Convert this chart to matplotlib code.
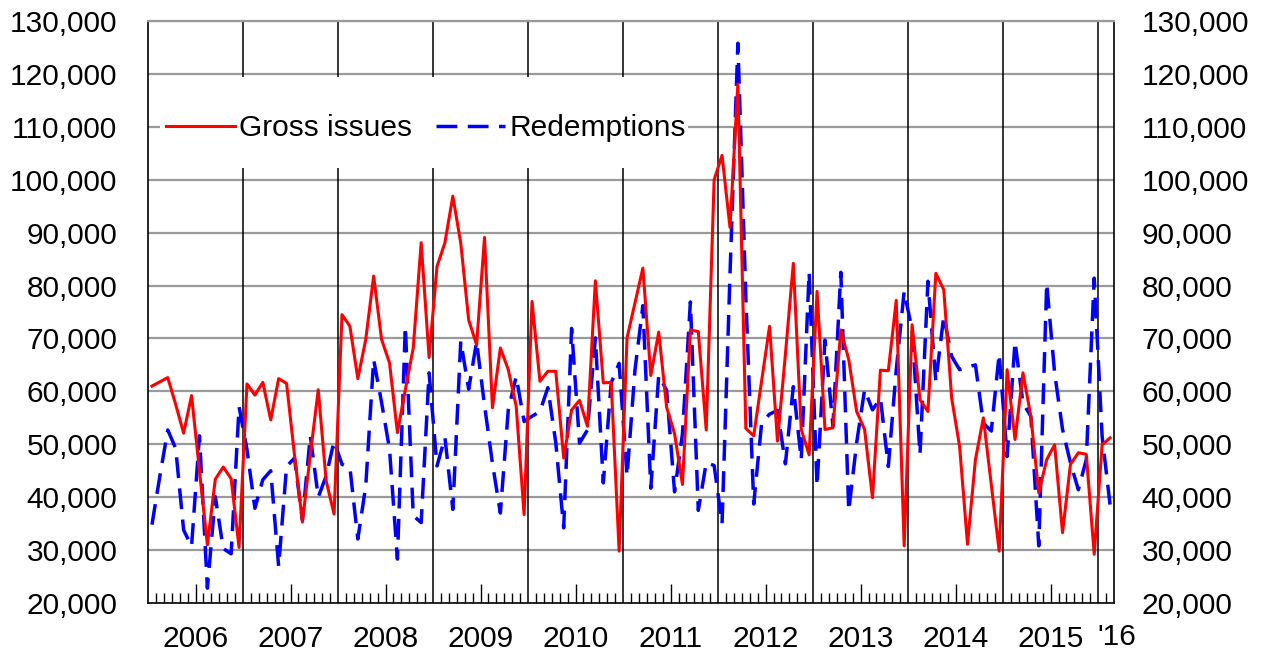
import numpy as np
import matplotlib
matplotlib.use('Agg')
from matplotlib import pyplot as plt
from matplotlib.patches import Rectangle
from matplotlib.ticker import FuncFormatter

plt.rcParams['font.family'] = ['Liberation Sans', 'DejaVu Sans']

# monthly values, Jan 2006 - Feb 2016, thousands
gross_issues = [61.0, 61.8, 62.6, 57.5, 52.1, 59.2, 45.0, 31.0, 43.4, 45.7, 43.5, 30.5,
                61.4, 59.3, 61.7, 54.6, 62.4, 61.5, 48.0, 35.3, 48.0, 60.3, 43.1, 36.8,
                74.5, 72.3, 62.4, 69.8, 81.8, 69.8, 65.4, 52.2, 60.3, 68.2, 88.1, 66.4,
                83.6, 88.1, 96.9, 88.0, 73.5, 68.8, 89.1, 56.9, 68.2, 64.1, 57.2, 36.7,
                77.0, 61.9, 63.8, 63.8, 47.4, 56.5, 58.3, 53.4, 80.9, 61.6, 61.7, 29.8,
                70.1, 76.7, 83.3, 63.0, 71.2, 57.0, 52.0, 42.4, 71.6, 71.3, 52.7, 100.0,
                104.6, 91.0, 118.1, 53.0, 51.6, 62.0, 72.3, 50.6, 67.0, 84.2, 52.8, 48.0,
                78.9, 52.8, 53.1, 71.6, 66.0, 56.2, 52.8, 39.9, 64.0, 63.9, 77.2, 30.8,
                72.6, 58.4, 56.2, 82.3, 79.2, 58.7, 49.6, 31.1, 47.1, 55.0, 42.4, 29.8,
                64.1, 50.9, 63.5, 55.3, 40.8, 47.1, 49.9, 33.3, 46.2, 48.4, 48.1, 29.2,
                49.9, 51.2]
redemptions = [34.8, 44.0, 52.7, 49.2, 33.8, 30.7, 51.6, 22.8, 40.1, 30.3, 29.3, 57.1,
               49.0, 37.9, 43.3, 45.0, 26.9, 45.8, 47.4, 35.7, 51.6, 40.0, 44.0, 50.6,
               46.2, 45.6, 32.1, 42.1, 66.0, 57.9, 49.1, 28.3, 72.3, 36.5, 35.2, 63.5,
               45.9, 51.3, 37.7, 69.5, 60.4, 69.4, 57.4, 46.4, 37.0, 56.5, 62.8, 54.3,
               55.3, 56.2, 60.7, 50.3, 34.2, 71.9, 50.2, 52.7, 70.1, 42.7, 61.6, 65.3,
               44.0, 64.0, 76.2, 41.7, 63.0, 60.2, 41.0, 52.0, 76.9, 37.5, 46.5, 46.0,
               35.0, 82.0, 125.8, 78.0, 38.7, 54.0, 55.7, 56.4, 46.3, 60.9, 47.1, 82.5,
               42.1, 69.7, 53.4, 82.5, 37.4, 50.3, 60.3, 56.5, 58.7, 45.8, 64.1, 78.9,
               71.6, 48.1, 80.8, 61.9, 74.2, 66.6, 64.1, 64.6, 65.0, 54.0, 52.5, 67.1,
               47.7, 69.4, 57.8, 55.3, 30.8, 80.4, 63.5, 52.8, 46.5, 41.4, 47.1, 81.4,
               51.5, 38.6]
year_labels = ['2006', '2007', '2008', '2009', '2010', '2011', '2012', '2013', '2014', '2015']
last_label = "'16"

gi = np.array(gross_issues) * 1000
rd = np.array(redemptions) * 1000
n = len(gi)
x = np.arange(n) + 0.5

fig = plt.figure(figsize=(12.67, 6.57), dpi=100)
ax = fig.add_axes([148/1267, 1 - 603/657, 966/1267, 582/657])

fs = 21.5
ax.set_xlim(0, n)
ax.set_ylim(20000, 130000)
yt = np.arange(20000, 130001, 10000)
fmt = FuncFormatter(lambda v, p: '{:,.0f}'.format(v))
ax.set_yticks(yt)
ax.yaxis.set_major_formatter(fmt)
ax.tick_params(axis='y', length=0, pad=22, labelsize=fs)
for v in yt[1:]:
    ax.axhline(v, color='#9a9a9a', lw=1.6, zorder=1)

# year separators
for k in range(12, n, 12):
    ax.axvline(k, color='black', lw=1.1, zorder=2)

# month ticks, long tick at mid year carries the year label
mid = [6 + 12*i for i in range(len(year_labels))]
ax.set_xticks(mid)
ax.set_xticklabels(year_labels)
minor = [k for k in range(1, n) if k % 12 != 0 and k % 12 != 6]
ax.set_xticks(minor, minor=True)
ax.tick_params(axis='x', which='major', direction='in', length=14, width=1, pad=16, labelsize=fs)
ax.tick_params(axis='x', which='minor', direction='in', length=7, width=1)
ax.text(n + 0.4, -0.058, last_label, transform=ax.get_xaxis_transform(), ha='center', va='center', fontsize=fs)

for s in ['left', 'right', 'bottom']:
    ax.spines[s].set_color('black')
    ax.spines[s].set_linewidth(1.2)
ax.spines['top'].set_color('#9a9a9a')
ax.spines['top'].set_linewidth(1.6)

# white box behind legend
ax.add_patch(Rectangle(((160-148)/966, (603-168)/582), (688-160)/966, 91/582,
                       transform=ax.transAxes, facecolor='white', edgecolor='none', zorder=3))

ax.plot(x, gi, color='#ff0000', lw=2.2, label='Gross issues', zorder=5)
ax.plot(x, rd, color='#0000ff', lw=2.5, dashes=(6, 3), label='Redemptions', zorder=4)

leg = ax.legend(loc='center left', bbox_to_anchor=((166-148)/966, (603-128)/582), ncol=2,
                frameon=False, fontsize=fs, handlelength=2.3, handletextpad=0.15,
                columnspacing=0.8, borderpad=0, borderaxespad=0)
leg.set_zorder(6)

ax2 = ax.twinx()
ax2.set_ylim(20000, 130000)
ax2.set_yticks(yt)
ax2.yaxis.set_major_formatter(fmt)
ax2.tick_params(axis='y', length=0, pad=20, labelsize=fs)
for s in ax2.spines.values():
    s.set_visible(False)

fig.savefig('out.png', dpi=100)
